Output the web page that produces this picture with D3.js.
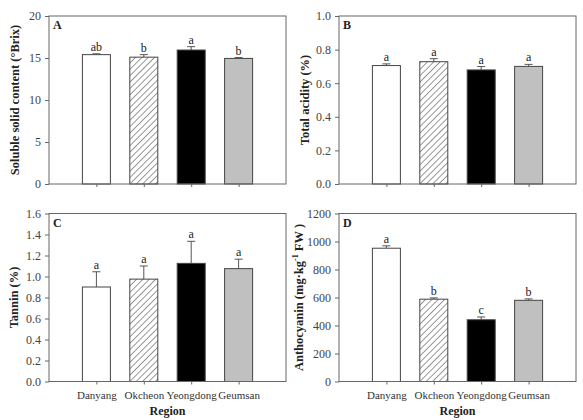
<!DOCTYPE html>
<html><head><meta charset="utf-8">
<script src="https://cdn.jsdelivr.net/npm/d3@7"></script>
<style>body{margin:0;background:#fff;} text{font-family:"Liberation Serif","Times New Roman",serif;}</style>
</head><body>
<script>
const regions = ["Danyang","Okcheon","Yeongdong","Geumsan"];
const fills = ["white","hatch","black","#c0c0c0"];
const sscMean = [15.4, 15.1, 15.95, 14.95];
const sscErr = [0.1, 0.3, 0.4, 0.1];
const sscLetters = ["ab","b","a","b"];
const acidMean = [0.705, 0.728, 0.679, 0.70];
const acidErr = [0.01, 0.018, 0.02, 0.012];
const acidLetters = ["a","a","a","a"];
const tanninMean = [0.90, 0.975, 1.125, 1.075];
const tanninErr = [0.145, 0.125, 0.21, 0.09];
const tanninLetters = ["a","a","a","a"];
const anthoMean = [952, 588, 441, 580];
const anthoErr = [17, 9, 20, 10];
const anthoLetters = ["a","b","c","b"];
const sscTicks = [0,5,10,15,20];
const acidTicks = [0,0.2,0.4,0.6,0.8,1.0];
const tanninTicks = [0,0.2,0.4,0.6,0.8,1.0,1.2,1.4,1.6];
const anthoTicks = [0,200,400,600,800,1000,1200];

const W=583,H=420;
const svg=d3.select("body").append("svg").attr("width",W).attr("height",H);
const defs=svg.append("defs");
const hs=4.5;
const pat=defs.append("pattern").attr("id","hatch").attr("patternUnits","userSpaceOnUse")
  .attr("width",hs).attr("height",hs).attr("patternTransform","rotate(45)");
pat.append("rect").attr("width",hs).attr("height",hs).attr("fill","white");
pat.append("line").attr("x1",0).attr("y1",0).attr("x2",0).attr("y2",hs).attr("stroke","#333").attr("stroke-width",1);

const panels=[
 {id:"A",x:49,y:16,mean:sscMean,err:sscErr,let:sscLetters,ticks:sscTicks,max:20,fmt:d3.format("d"),title:"Soluble solid content (°Brix)",xlab:false,toff:-30},
 {id:"B",x:339,y:16,mean:acidMean,err:acidErr,let:acidLetters,ticks:acidTicks,max:1.0,fmt:d3.format(".1f"),title:"Total acidity (%)",xlab:false,toff:-30},
 {id:"C",x:49,y:213.5,mean:tanninMean,err:tanninErr,let:tanninLetters,ticks:tanninTicks,max:1.6,fmt:d3.format(".1f"),title:"Tannin (%)",xlab:true,toff:-31},
 {id:"D",x:339,y:213.5,mean:anthoMean,err:anthoErr,let:anthoLetters,ticks:anthoTicks,max:1200,fmt:d3.format("d"),title:"antho",xlab:true,toff:-36}
];
const pw=237,ph=168;
const frameCol="#666";

panels.forEach(p=>{
  const g=svg.append("g").attr("transform",`translate(${p.x},${p.y})`);
  const xs=d3.scalePoint().domain(regions).range([0,pw]).padding(1);
  const ys=d3.scaleLinear().domain([0,p.max]).range([ph,0]);
  const bw=28;
  regions.forEach((r,i)=>{
    const cx=xs(r);
    const top=ys(p.mean[i]);
    const etop=ys(p.mean[i]+p.err[i]);
    g.append("line").attr("x1",cx).attr("x2",cx).attr("y1",top).attr("y2",etop).attr("stroke","#555").attr("stroke-width",1);
    g.append("line").attr("x1",cx-4).attr("x2",cx+4).attr("y1",etop).attr("y2",etop).attr("stroke","#555").attr("stroke-width",1);
    g.append("rect").attr("x",cx-bw/2).attr("y",top).attr("width",bw).attr("height",ph-top)
      .attr("fill",fills[i]==="hatch"?"url(#hatch)":fills[i]).attr("stroke","#444").attr("stroke-width",1);
    g.append("text").attr("x",cx).attr("y",etop-3).attr("text-anchor","middle").attr("font-size",12).attr("fill","#222").text(p.let[i]);
  });
  g.append("rect").attr("x",0).attr("y",0).attr("width",pw).attr("height",ph).attr("fill","none").attr("stroke",frameCol).attr("stroke-width",1);
  const ya=g.append("g").call(d3.axisLeft(ys).tickValues(p.ticks).tickFormat(p.fmt).tickSize(4).tickPadding(4));
  ya.select(".domain").remove();
  ya.selectAll("line").attr("stroke",frameCol);
  ya.selectAll("text").attr("font-size",12).attr("fill","#444").style("font-family","Liberation Serif");
  const xa=g.append("g").attr("transform",`translate(0,${ph})`).call(d3.axisBottom(xs).tickSize(3).tickPadding(7).tickFormat(p.xlab?(d=>d):(()=>"")));
  xa.select(".domain").remove();
  xa.selectAll("line").attr("stroke",frameCol);
  xa.selectAll("text").attr("font-size",11).attr("fill","#333").style("font-family","Liberation Serif");
  g.append("text").attr("x",4).attr("y",13).attr("font-size",12).attr("font-weight","bold").attr("fill","#222").text(p.id);
  const yt=g.append("text").attr("transform",`translate(${p.toff},${ph/2}) rotate(-90)`).attr("text-anchor","middle")
    .attr("font-size",12.5).attr("font-weight","bold").attr("fill","#222");
  if(p.title==="antho"){
    yt.append("tspan").text("Anthocyanin (mg·kg");
    yt.append("tspan").attr("font-size",8).attr("dy",-5).text("-1");
    yt.append("tspan").attr("dy",5).text(" FW )");
  } else yt.text(p.title);
  if(p.xlab){
    g.append("text").attr("x",pw/2).attr("y",ph+33).attr("text-anchor","middle").attr("font-size",12).attr("font-weight","bold").attr("fill","#222").text("Region");
  }
});
</script>
</body></html>
